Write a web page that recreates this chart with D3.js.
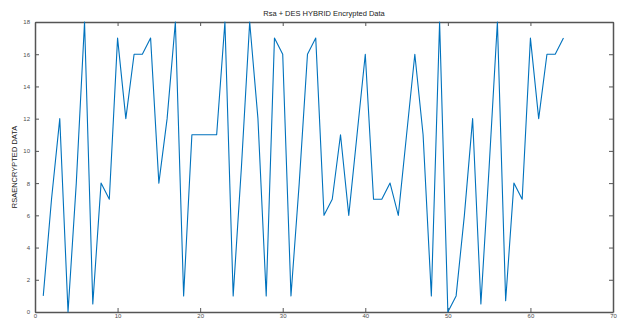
<!DOCTYPE html>
<html>
<head>
<meta charset="utf-8">
<script src="https://cdn.jsdelivr.net/npm/d3@7"></script>
<style>
  body { margin: 0; background: #fff; }
  svg { display: block; }
  .tick text { font-family: "Liberation Sans", Arial, sans-serif; font-size: 6px; fill: #4d4d4d; }
</style>
</head>
<body>
<div id="chart"></div>
<script>
// index 1..64 along x
var xValues = d3.range(1, 65);
var encrypted = [
  1, 7, 12, 0, 8, 18, 0.5, 8, 7, 17,
  12, 16, 16, 17, 8, 12, 18, 1, 11, 11,
  11, 11, 18, 1, 9, 18, 12, 1, 17, 16,
  1, 8, 16, 17, 6, 7, 11, 6, 11, 16,
  7, 7, 8, 6, 11, 16, 11, 1, 18, 0,
  1, 6, 12, 0.5, 9, 18, 0.7, 8, 7, 17,
  12, 16, 16, 17
];
var xTicks = [0, 10, 20, 30, 40, 50, 60, 70];
var yTicks = [0, 2, 4, 6, 8, 10, 12, 14, 16, 18];

var W = 619, H = 320;
var margin = {top: 22, right: 6, bottom: 8, left: 35};
var width = W - margin.left - margin.right,
    height = H - margin.top - margin.bottom;

var svg = d3.select("#chart").append("svg")
    .attr("width", W)
    .attr("height", H);

var g = svg.append("g")
    .attr("transform", "translate(" + margin.left + "," + margin.top + ")");

var x = d3.scaleLinear().domain([0, 70]).range([0, width]);
var y = d3.scaleLinear().domain([0, 18]).range([height, 0]);

var axisColor = "#555";

// bottom + top axes (ticks inward, matlab style)
var xb = g.append("g")
    .attr("transform", "translate(0," + height + ")")
    .call(d3.axisBottom(x).tickValues(xTicks).tickSize(-4).tickPadding(2).tickSizeOuter(0));
xb.selectAll(".tick text").attr("dy", "0.6em");
var xt = g.append("g")
    .call(d3.axisTop(x).tickValues(xTicks).tickSize(-4).tickFormat("").tickSizeOuter(0));
var yl = g.append("g")
    .call(d3.axisLeft(y).tickValues(yTicks).tickSize(-4).tickPadding(5).tickSizeOuter(0));
var yr = g.append("g")
    .attr("transform", "translate(" + width + ",0)")
    .call(d3.axisRight(y).tickValues(yTicks).tickSize(-4).tickFormat("").tickSizeOuter(0));

[xb, xt, yl, yr].forEach(function(a) {
  a.selectAll("path.domain").attr("stroke", axisColor).attr("stroke-width", 1.5);
  a.selectAll(".tick line").attr("stroke", axisColor);
});

var line = d3.line()
    .x(function(d, i) { return x(xValues[i]); })
    .y(function(d) { return y(d); });

g.append("path")
    .datum(encrypted)
    .attr("fill", "none")
    .attr("stroke", "#0072BD")
    .attr("stroke-width", 1.1)
    .attr("stroke-linejoin", "round")
    .attr("d", line);

svg.append("text")
    .attr("x", margin.left + width / 2)
    .attr("y", 16)
    .attr("text-anchor", "middle")
    .style("font-family", "'Liberation Sans Narrow', 'Liberation Sans', Arial, sans-serif")
    .style("font-size", "7.5px")
    .style("fill", "#222")
    .text("Rsa + DES HYBRID Encrypted Data");

svg.append("text")
    .attr("transform", "translate(17," + (margin.top + height / 2) + ") rotate(-90)")
    .attr("text-anchor", "middle")
    .style("font-family", "'Liberation Sans Narrow', 'Liberation Sans', Arial, sans-serif")
    .style("font-size", "7.5px")
    .style("fill", "#222")
    .text("RSAENCRYPTED DATA");
</script>
</body>
</html>
